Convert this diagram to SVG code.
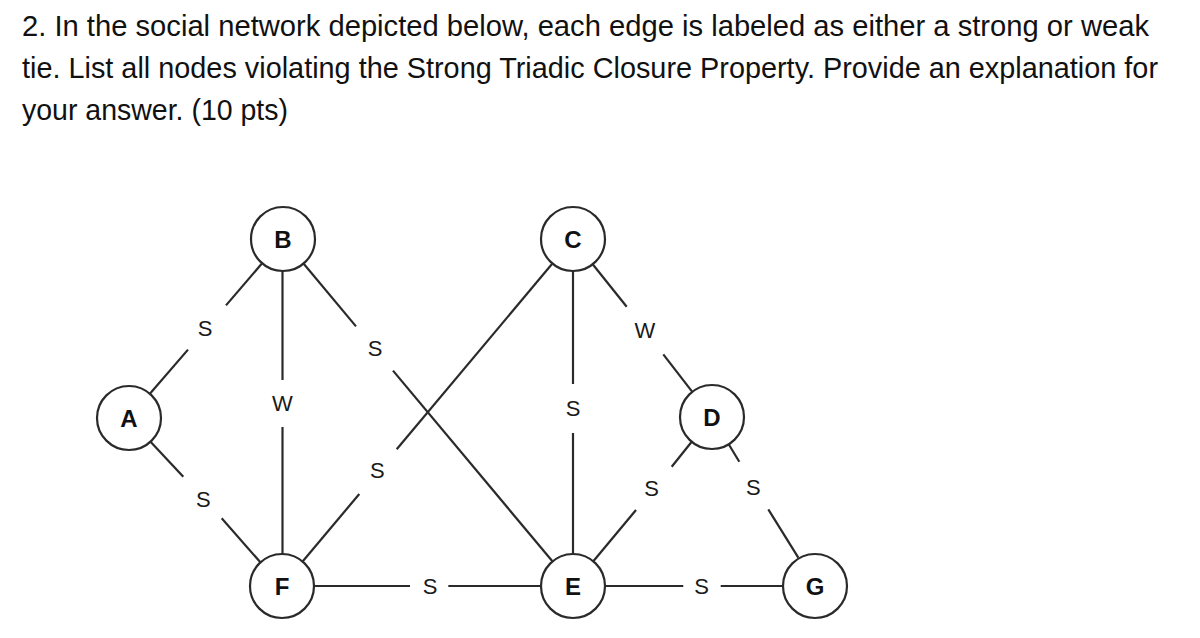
<svg xmlns="http://www.w3.org/2000/svg" width="1200" height="638" viewBox="0 0 1200 638">
<style>
.q{font-family:"Liberation Sans",Arial,Helvetica,sans-serif;font-size:29px;fill:#111}
.e line{stroke:#2a2a2a;stroke-width:2.2;stroke-linecap:butt}
.lbl{font-family:"Liberation Sans",Arial,Helvetica,sans-serif;font-size:22px;fill:#1a1a1a;text-anchor:middle}
.n circle{fill:#fff;stroke:#2a2a2a;stroke-width:2.2}
.n text{font-family:"Liberation Sans",Arial,Helvetica,sans-serif;font-size:24px;font-weight:bold;fill:#111;text-anchor:middle}
</style>
<rect width="1200" height="638" fill="#fff"/>
<g id="question">
<text class="q" x="22" y="36" textLength="1127" lengthAdjust="spacingAndGlyphs">2. In the social network depicted below, each edge is labeled as either a strong or weak</text>
<text class="q" x="22" y="78" textLength="1136" lengthAdjust="spacingAndGlyphs">tie. List all nodes violating the Strong Triadic Closure Property. Provide an explanation for</text>
<text class="q" x="22" y="120" textLength="266" lengthAdjust="spacingAndGlyphs">your answer. (10 pts)</text>
</g>
<g id="connectors" class="e">
<!-- A-B -->
<line x1="149.9" y1="393.7" x2="188" y2="349.6"/>
<line x1="226" y1="305.4" x2="262.1" y2="263.3"/>
<text class="lbl" x="205" y="336">S</text>
<!-- B-F -->
<line x1="282.5" y1="271" x2="282.5" y2="380"/>
<line x1="282.5" y1="427" x2="282.5" y2="554"/>
<text class="lbl" x="282.5" y="411">W</text>
<!-- B-E -->
<line x1="303.5" y1="263.5" x2="356" y2="326.4"/>
<line x1="393" y1="370.6" x2="552.4" y2="561.3"/>
<text class="lbl" x="375" y="356">S</text>
<!-- C-F -->
<line x1="552.4" y1="263.5" x2="396.7" y2="449.3"/>
<line x1="359.3" y1="494" x2="302.6" y2="561.5"/>
<text class="lbl" x="377.3" y="478">S</text>
<!-- C-E -->
<line x1="573" y1="271" x2="573" y2="384"/>
<line x1="573" y1="433" x2="573" y2="554"/>
<text class="lbl" x="573" y="416">S</text>
<!-- C-D -->
<line x1="592.7" y1="264.2" x2="626.7" y2="306.7"/>
<line x1="663.3" y1="354.3" x2="692.3" y2="391.8"/>
<text class="lbl" x="645" y="338">W</text>
<!-- A-F -->
<line x1="150.5" y1="441.7" x2="183.3" y2="476.7"/>
<line x1="221.7" y1="518.3" x2="260.4" y2="562.3"/>
<text class="lbl" x="203.3" y="507">S</text>
<!-- F-E -->
<line x1="314" y1="586" x2="410" y2="586"/>
<line x1="448.3" y1="586" x2="541" y2="586"/>
<text class="lbl" x="430" y="594">S</text>
<!-- E-D -->
<line x1="593.3" y1="561.3" x2="636" y2="510"/>
<line x1="671.7" y1="466.7" x2="691.7" y2="441.7"/>
<text class="lbl" x="651.7" y="496">S</text>
<!-- D-G -->
<line x1="728.7" y1="444.3" x2="739.3" y2="461.7"/>
<line x1="768.3" y1="509.3" x2="798.3" y2="557.7"/>
<text class="lbl" x="753.3" y="495">S</text>
<!-- E-G -->
<line x1="605" y1="586" x2="683.3" y2="586"/>
<line x1="720.7" y1="586" x2="783" y2="586"/>
<text class="lbl" x="701.7" y="594">S</text>
</g>
<g id="node-B" class="n"><circle cx="283" cy="239" r="32"/><text x="283" y="248">B</text></g>
<g id="node-C" class="n"><circle cx="573" cy="239" r="32"/><text x="573" y="248">C</text></g>
<g id="node-A" class="n"><circle cx="129" cy="418" r="32"/><text x="129" y="427">A</text></g>
<g id="node-D" class="n"><circle cx="712" cy="417" r="32"/><text x="712" y="426">D</text></g>
<g id="node-F" class="n"><circle cx="282" cy="586" r="32"/><text x="282" y="595">F</text></g>
<g id="node-E" class="n"><circle cx="573" cy="586" r="32"/><text x="573" y="595">E</text></g>
<g id="node-G" class="n"><circle cx="815" cy="586" r="32"/><text x="815" y="595">G</text></g>
</svg>
